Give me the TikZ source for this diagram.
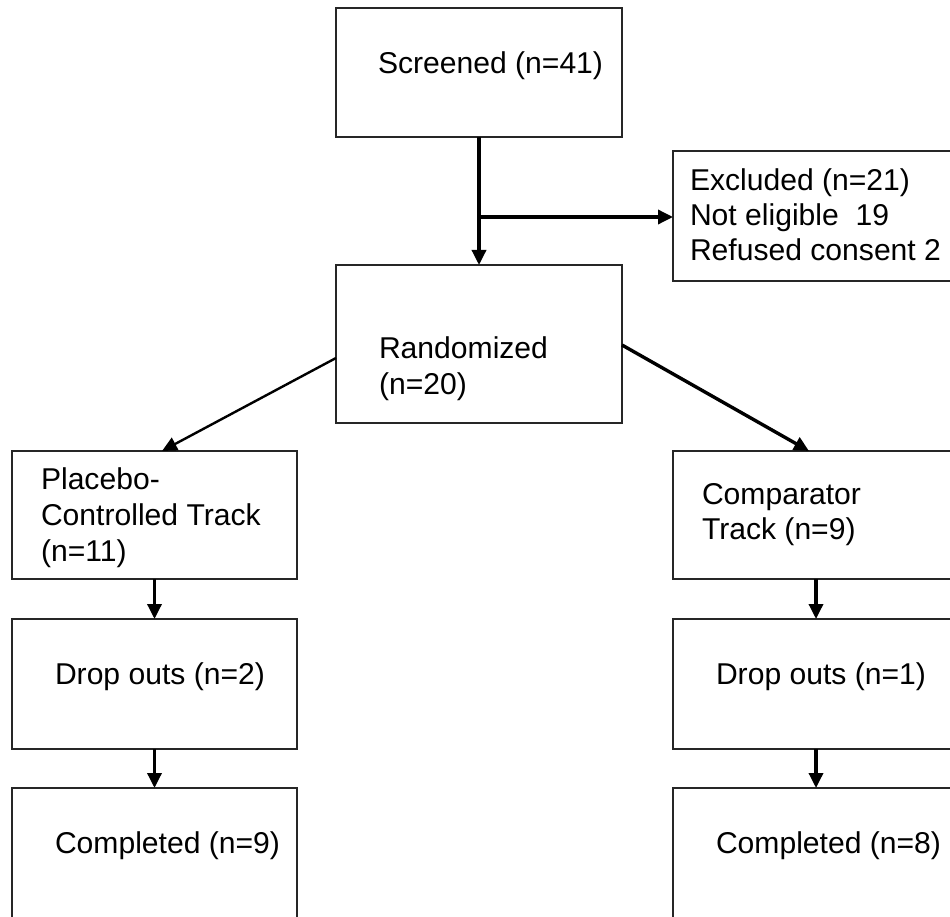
\documentclass[tikz,border=0pt]{standalone}
\usepackage{fontspec}
\setmainfont{Liberation Sans}
\usetikzlibrary{arrows.meta}
\begin{document}
\begin{tikzpicture}[x=1pt,y=-1pt,
  box/.style={draw=black!85, line width=1.3pt, minimum width=286pt, anchor=north west, inner sep=0pt, outer sep=0pt},
  txt/.style={anchor=base west, inner sep=0pt, outer sep=0pt, font=\fontsize{30.1}{36}\selectfont},
  arr/.style={line width=3.4pt, -{Triangle[length=15pt,width=14pt]}},
  thinarr/.style={line width=2.4pt, -{Triangle[length=15pt,width=14pt]}}]
\useasboundingbox (0,0) rectangle (950,917);
\begin{scope}
\clip (0,0) rectangle (950,917);
% boxes
\node[box, minimum height=129pt] (scr) at (336,8) {};
\node[box, minimum height=130pt] (exc) at (673,151) {};
\node[box, minimum height=158pt] (rnd) at (336,265) {};
\node[box, minimum width=285pt, minimum height=128pt] (pla) at (12,451) {};
\node[box, minimum height=128pt] (cmp) at (673,451) {};
\node[box, minimum width=285pt, minimum height=130pt] (dpl) at (12,619) {};
\node[box, minimum height=130pt] (dcm) at (673,619) {};
\node[box, minimum width=285pt, minimum height=160pt] (cpl) at (12,788) {};
\node[box, minimum height=160pt] (ccm) at (673,788) {};
% texts
\node[txt] (t1) at (378,74) {Screened (n=41)};
\node[txt] (t2) at (690,191) {Excluded (n=21)};
\node[txt] (t3) at (690,226) {Not eligible\ \ 19};
\node[txt] (t4) at (690,261) {Refused consent 2};
\node[txt] (t5) at (379,358) {Randomized};
\node[txt] (t6) at (379,394) {(n=20)};
\node[txt] (t7) at (41,489) {Placebo-};
\node[txt] (t8) at (41,525) {Controlled Track};
\node[txt] (t9) at (41,561) {(n=11)};
\node[txt] (t10) at (702,504) {Comparator};
\node[txt] (t11) at (702,539) {Track (n=9)};
\node[txt] (t12) at (55,684) {Drop outs (n=2)};
\node[txt] (t13) at (716,684) {Drop outs (n=1)};
\node[txt] (t14) at (55,853) {Completed (n=9)};
\node[txt] (t15) at (716,853) {Completed (n=8)};
% connectors
\coordinate (br) at (479,217);
\draw[arr] (scr.south) -- (rnd.north);
\draw[arr] (br) -- (br -| exc.west);
\coordinate (ls) at (336,358);
\coordinate (le) at (162,451);
\coordinate (rs) at (622,345);
\coordinate (re) at (809,451);
\draw[thinarr] (ls) -- (le);
\draw[arr] (rs) -- (re);
\draw[arr] (pla.south) -- (dpl.north);
\draw[arr] (dpl.south) -- (cpl.north);
\draw[arr] (cmp.south) -- (dcm.north);
\draw[arr] (dcm.south) -- (ccm.north);
\end{scope}
\end{tikzpicture}
\end{document}
